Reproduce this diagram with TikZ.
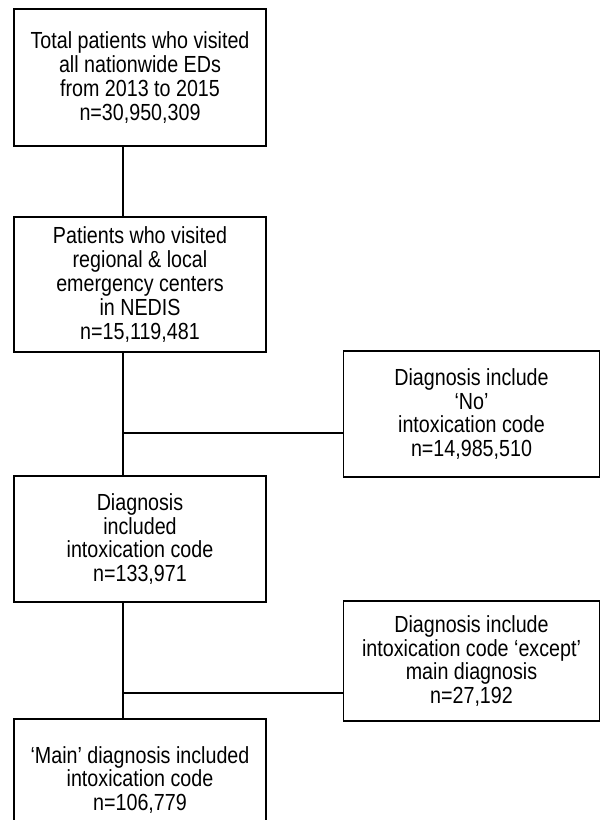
\documentclass[tikz,border=0pt]{standalone}
\usepackage{fontspec}
\setmainfont{Liberation Sans}[FakeStretch=0.845]
\begin{document}
\begin{tikzpicture}[x=1pt,y=-1pt,
  box/.style={draw=black, line width=1.7pt, rectangle, inner sep=0pt, align=center,
    font=\fontsize{23.3}{23.8}\selectfont},
  conn/.style={draw=black, line width=1.4pt}]
\useasboundingbox (0,0) rectangle (601,820);
\clip (0,0) rectangle (601,820);
\node[box, minimum width=252pt, minimum height=137pt] (b1) at (140,77.5)
  {Total patients who visited\\all nationwide EDs\\from 2013 to 2015\\n=30,950,309};
\node[box, minimum width=252pt, minimum height=135pt] (b2) at (140,284.5)
  {Patients who visited\\regional \& local\\emergency centers\\in NEDIS\\n=15,119,481};
\node[box, minimum width=256pt, minimum height=126pt] (r1) at (471.5,414)
  {Diagnosis include\\`No'\\intoxication code\\n=14,985,510};
\node[box, minimum width=252pt, minimum height=126pt] (b3) at (140,539)
  {Diagnosis\\included\\intoxication code\\n=133,971};
\node[box, minimum width=256pt, minimum height=120pt] (r2) at (471.5,661)
  {Diagnosis include\\intoxication code `except'\\main diagnosis\\n=27,192};
\node[box, minimum width=252pt, minimum height=122pt] (b4) at (140,780)
  {`Main' diagnosis included\\intoxication code\\n=106,779};
\coordinate (v) at (123,0);
\coordinate (h1) at (123,433);
\coordinate (h2) at (123,693);
\draw[conn] (b1.south -| v) -- (b2.north -| v);
\draw[conn] (b2.south -| v) -- (b3.north -| v);
\draw[conn] (b3.south -| v) -- (b4.north -| v);
\draw[conn] (h1) -- (h1 -| r1.west);
\draw[conn] (h2) -- (h2 -| r2.west);
\end{tikzpicture}
\end{document}
